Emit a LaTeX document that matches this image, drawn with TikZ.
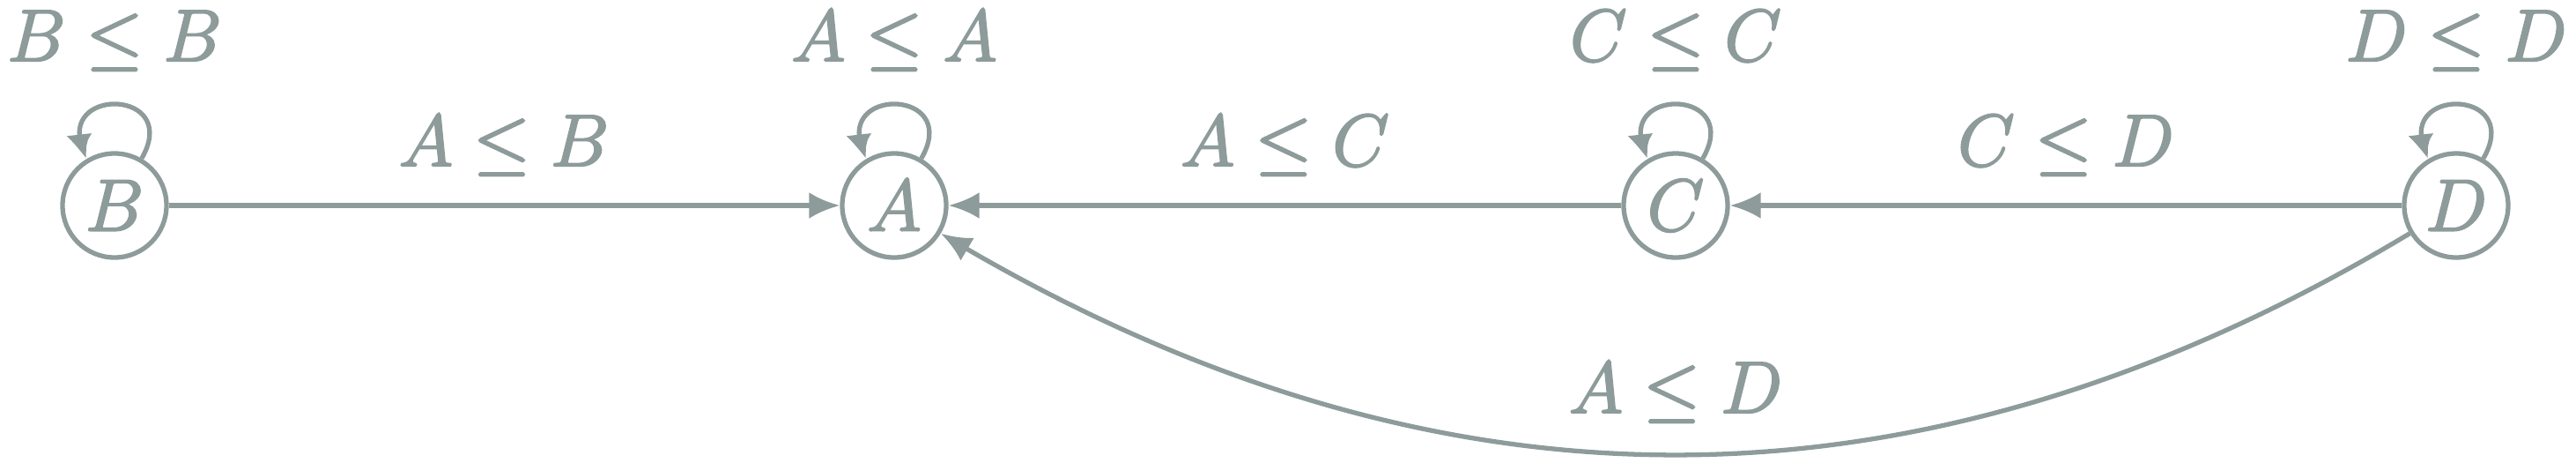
\RequirePackage{fix-cm}
\documentclass[tikz,border=0pt]{standalone}
\usepackage{amsmath}
\usepackage{amssymb}
\usetikzlibrary{arrows.meta, bending}
\definecolor{posetgray}{RGB}{141,155,154}
% slightly heavier glyphs
\newcommand{\heavytext}[1]{\special{pdf:literal direct 2 Tr 0.6 w}#1\special{pdf:literal direct 0 Tr}}

\begin{document}
\begin{tikzpicture}[
    circ/.style={circle, draw=posetgray, line width=1.5pt, minimum size=1.18cm, inner sep=0pt, text=posetgray, font=\fontsize{23.7}{28}\selectfont},
    arrow/.style={-{Latex[length=0.35cm, width=0.3cm]}, line width=1.5pt, draw=posetgray},
    selfloop/.style={-{Latex[length=0.3cm, width=0.28cm, bend]}, line width=1.5pt, draw=posetgray, out=60, in=120, min distance=0.95cm},
    lbl/.style={anchor=base, text=posetgray, font=\fontsize{23.7}{28}\selectfont}
]
\useasboundingbox (0,0) rectangle (29.24,5.24);

\node[circ] (B) at (1.30,2.91) {\heavytext{$B$}};
\node[circ] (A) at (10.15,2.91) {\heavytext{$A$}};
\node[circ] (C) at (19.02,2.91) {\heavytext{$C$}};
\node[circ] (D) at (27.88,2.91) {\heavytext{$D$}};

\draw[arrow] (B) -- (A);
\draw[arrow] (C) -- (A);
\draw[arrow] (D) -- (C);
\draw[arrow] (D) to[bend left=31, looseness=1] (A);

\draw[selfloop] (B) to (B);
\draw[selfloop] (A) to (A);
\draw[selfloop] (C) to (C);
\draw[selfloop] (D) to (D);

\node[lbl] (lbb) at (1.30,4.55) {\heavytext{$B \leq B$}};
\node[lbl] (laa) at (10.15,4.55) {\heavytext{$A \leq A$}};
\node[lbl] (lcc) at (19.02,4.55) {\heavytext{$C \leq C$}};
\node[lbl] (ldd) at (27.88,4.55) {\heavytext{$D \leq D$}};
\node[lbl] (lab) at (5.72,3.36) {\heavytext{$A \leq B$}};
\node[lbl] (lac) at (14.585,3.36) {\heavytext{$A \leq C$}};
\node[lbl] (lcd) at (23.45,3.36) {\heavytext{$C \leq D$}};
\node[lbl] (lad) at (19.02,0.56) {\heavytext{$A \leq D$}};
\end{tikzpicture}
\end{document}
